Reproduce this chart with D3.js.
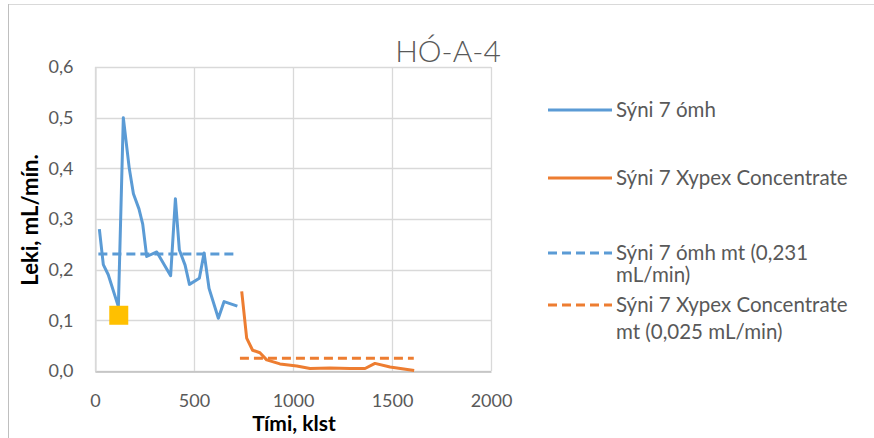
<!DOCTYPE html>
<html>
<head>
<meta charset="utf-8">
<script src="https://cdn.jsdelivr.net/npm/d3@7"></script>
<style>
  html, body { margin: 0; padding: 0; background: #fff; }
  svg { display: block; font-family: Lato, "Open Sans", sans-serif; }
</style>
</head>
<body>
<svg id="chart" width="874" height="438"></svg>
<script>
// Leakage measurements over time
const blueX = [22, 42, 67, 118, 143, 173, 194, 222, 241, 261, 312, 382, 406, 426, 455, 477, 527, 551, 576, 623, 652, 719];
const blueY = [0.28, 0.21, 0.19, 0.127, 0.5, 0.40, 0.35, 0.32, 0.29, 0.226, 0.235, 0.188, 0.34, 0.239, 0.209, 0.171, 0.183, 0.233, 0.163, 0.104, 0.137, 0.128];

const orangeX = [741, 766, 796, 833, 867, 934, 1019, 1086, 1187, 1288, 1364, 1414, 1490, 1612];
const orangeY = [0.157, 0.065, 0.041, 0.036, 0.022, 0.014, 0.010, 0.005, 0.006, 0.005, 0.005, 0.015, 0.008, 0.001];

// Mean lines: [startX, endX], value
const blueMeanX = [17, 724];
const blueMean = 0.231;
const orangeMeanX = [732, 1610];
const orangeMean = 0.025;

// Highlighted single point
const markerX = [120];
const markerY = [0.11];

const xTicks = [0, 500, 1000, 1500, 2000];
const yTicks = [0, 0.1, 0.2, 0.3, 0.4, 0.5, 0.6];

const legendLabels = [
  ["Sýni 7 ómh"],
  ["Sýni 7 Xypex Concentrate"],
  ["Sýni 7 ómh mt (0,231", "mL/min)"],
  ["Sýni 7 Xypex Concentrate", "mt (0,025 mL/min)"]
];

const BLUE = "#5B9BD5", ORANGE = "#ED7D31", TXT = "#595959";

const svg = d3.select("#chart");

// outer frame (top and left edges)
svg.append("line").attr("x1", 8).attr("x2", 874).attr("y1", 4.5).attr("y2", 4.5)
  .attr("stroke", "#d9d9d9").attr("stroke-width", 1);
svg.append("line").attr("x1", 8.5).attr("x2", 8.5).attr("y1", 4).attr("y2", 438)
  .attr("stroke", "#bfbfbf").attr("stroke-width", 1);

const plot = { left: 95, right: 491, top: 67, bottom: 371 };
const x = d3.scaleLinear().domain([0, 2000]).range([plot.left, plot.right]);
const y = d3.scaleLinear().domain([0, 0.6]).range([plot.bottom, plot.top]);

// gridlines
const g = svg.append("g");
g.selectAll("line.h").data(yTicks).join("line")
  .attr("x1", plot.left).attr("x2", plot.right)
  .attr("y1", d => Math.round(y(d)) + 0.5).attr("y2", d => Math.round(y(d)) + 0.5)
  .attr("stroke", "#d9d9d9").attr("stroke-width", 1.3);
g.selectAll("line.v").data(xTicks).join("line")
  .attr("y1", plot.top).attr("y2", plot.bottom)
  .attr("x1", d => Math.round(x(d)) + 0.5).attr("x2", d => Math.round(x(d)) + 0.5)
  .attr("stroke", "#d9d9d9").attr("stroke-width", 1.3);

// axes
const xAxis = svg.append("g").attr("transform", `translate(0,${plot.bottom + 0.5})`)
  .call(d3.axisBottom(x).tickValues(xTicks).tickSize(0).tickPadding(23).tickFormat(d3.format("d")));
const yAxis = svg.append("g").attr("transform", `translate(${plot.left + 0.5},0)`)
  .call(d3.axisLeft(y).tickValues(yTicks).tickSize(0).tickPadding(22)
    .tickFormat(d => d3.format(".1f")(d).replace(".", ",")));
[xAxis, yAxis].forEach(a => {
  a.select(".domain").attr("stroke", "#bfbfbf").attr("stroke-width", 1.3);
  a.selectAll("text").attr("fill", TXT).attr("font-size", 18)
    .attr("font-family", "Lato, sans-serif");
});
yAxis.select(".domain").attr("stroke", "#d9d9d9");

// series lines
const line = d3.line().x(d => x(d[0])).y(d => y(d[1]));
svg.append("path").datum(blueX.map((v, i) => [v, blueY[i]]))
  .attr("d", line).attr("fill", "none").attr("stroke", BLUE)
  .attr("stroke-width", 3).attr("stroke-linejoin", "round");
svg.append("path").datum(orangeX.map((v, i) => [v, orangeY[i]]))
  .attr("d", line).attr("fill", "none").attr("stroke", ORANGE)
  .attr("stroke-width", 3).attr("stroke-linejoin", "round");

// mean lines
svg.append("path").datum(blueMeanX.map(v => [v, blueMean]))
  .attr("d", line).attr("fill", "none").attr("stroke", BLUE)
  .attr("stroke-width", 3).attr("stroke-dasharray", "9,5");
svg.append("path").datum(orangeMeanX.map(v => [v, orangeMean]))
  .attr("d", line).attr("fill", "none").attr("stroke", ORANGE)
  .attr("stroke-width", 3).attr("stroke-dasharray", "9,5");

// marker
svg.selectAll("rect.mk").data(markerX.map((v, i) => [v, markerY[i]])).join("rect")
  .attr("x", d => x(d[0]) - 9.5).attr("y", d => y(d[1]) - 9.5)
  .attr("width", 19).attr("height", 19).attr("fill", "#FFC000");

// title
svg.append("text").attr("x", 448).attr("y", 62).attr("text-anchor", "middle")
  .attr("font-size", 30).attr("font-weight", 300).attr("fill", TXT).text("HÓ-A-4");

// axis titles
svg.append("text").attr("x", 294).attr("y", 431).attr("text-anchor", "middle")
  .attr("font-size", 21).attr("font-weight", "bold").attr("fill", "#000").text("Tími, klst");
svg.append("text").attr("transform", "translate(38,220) rotate(-90)").attr("text-anchor", "middle")
  .attr("font-size", 22).attr("font-weight", "bold").attr("fill", "#000").text("Leki, mL/mín.");

// legend
const legendY = [110, 178, 253, 305];
const legendColor = [BLUE, ORANGE, BLUE, ORANGE];
const legendDash = [null, null, "9,5", "9,5"];
const lineGap = [0, 0, 22, 27];
const lg = svg.append("g");
legendLabels.forEach((lines, i) => {
  lg.append("line").attr("x1", 548).attr("x2", 612)
    .attr("y1", legendY[i]).attr("y2", legendY[i])
    .attr("stroke", legendColor[i]).attr("stroke-width", 3)
    .attr("stroke-dasharray", legendDash[i]);
  lines.forEach((t, j) => {
    lg.append("text").attr("x", 616).attr("y", legendY[i] + 7 + j * lineGap[i])
      .attr("font-size", 20.5).attr("fill", TXT).text(t);
  });
});
</script>
</body>
</html>
